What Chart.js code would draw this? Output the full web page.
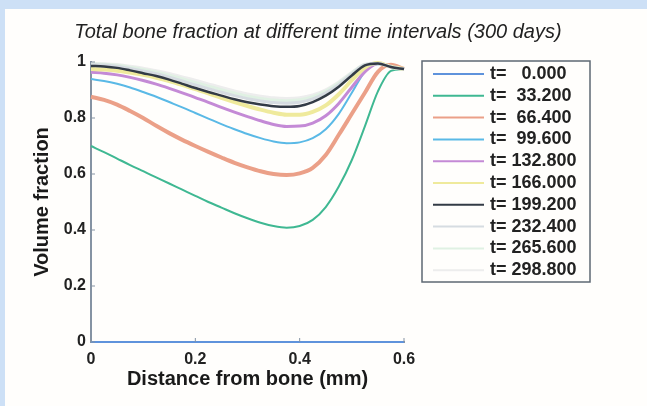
<!DOCTYPE html>
<html><head><meta charset="utf-8">
<script src="https://cdn.jsdelivr.net/npm/chart.js@4"></script>
<style>
html,body{margin:0;padding:0;background:#cde0f6;width:647px;height:406px;overflow:hidden}
#panel{position:absolute;left:5px;top:9px;width:642px;height:397px;background:#fffefc}
#c{position:absolute;left:0;top:0}
</style></head><body>
<div id="panel"></div>
<canvas id="c" width="647" height="406"></canvas>
<script>
const titleText = 'Total bone fraction at different time intervals (300 days)';
const xTitle = 'Distance from bone (mm)';
const yTitle = 'Volume fraction';
const xTickValues = [0, 0.2, 0.4, 0.6];
const xTickLabels = ['0', '0.2', '0.4', '0.6'];
const yTickValues = [0, 0.2, 0.4, 0.6, 0.8, 1];
const yTickLabels = ['0', '0.2', '0.4', '0.6', '0.8', '1'];

const distance = [0,0.025,0.05,0.075,0.1,0.125,0.15,0.175,0.2,0.225,0.25,0.275,0.3,0.325,0.35,0.375,0.4,0.425,0.45,0.475,0.5,0.525,0.55,0.575,0.6];

const legendLabels = ['t=   0.000','t=  33.200','t=  66.400','t=  99.600','t= 132.800','t= 166.000','t= 199.200','t= 232.400','t= 265.600','t= 298.800'];

const t000 = [0,0,0,0,0,0,0,0,0,0,0,0,0,0,0,0,0,0,0,0,0,0,0,0,0];
const t033 = [0.700,0.678,0.655,0.632,0.610,0.588,0.566,0.544,0.522,0.500,0.480,0.460,0.442,0.426,0.414,0.408,0.414,0.436,0.482,0.555,0.650,0.770,0.895,0.968,0.975];
const t066 = [0.876,0.865,0.848,0.825,0.800,0.772,0.746,0.722,0.700,0.679,0.659,0.640,0.624,0.610,0.600,0.596,0.602,0.622,0.668,0.740,0.815,0.890,0.965,0.990,0.975];
const t100 = [0.939,0.932,0.922,0.909,0.893,0.876,0.857,0.838,0.818,0.798,0.778,0.760,0.743,0.728,0.716,0.710,0.713,0.728,0.760,0.815,0.890,0.965,0.992,0.985,0.975];
const t133 = [0.963,0.960,0.954,0.945,0.934,0.921,0.906,0.890,0.873,0.856,0.838,0.821,0.805,0.790,0.777,0.770,0.771,0.782,0.808,0.852,0.910,0.965,0.995,0.985,0.975];
const t166 = [0.975,0.973,0.969,0.962,0.954,0.944,0.932,0.918,0.903,0.888,0.872,0.857,0.843,0.830,0.819,0.812,0.812,0.822,0.845,0.885,0.935,0.980,0.996,0.983,0.975];
const t199 = [0.986,0.984,0.979,0.970,0.960,0.950,0.937,0.922,0.907,0.893,0.880,0.867,0.856,0.848,0.842,0.840,0.843,0.857,0.880,0.912,0.952,0.988,0.995,0.982,0.975];
const t232 = [0.990,0.989,0.985,0.977,0.968,0.958,0.946,0.932,0.918,0.905,0.892,0.880,0.869,0.861,0.855,0.853,0.856,0.868,0.890,0.920,0.958,0.990,0.995,0.982,0.975];
const t266 = [0.993,0.992,0.988,0.981,0.973,0.964,0.953,0.940,0.927,0.914,0.901,0.889,0.878,0.870,0.864,0.862,0.865,0.876,0.896,0.925,0.961,0.991,0.995,0.982,0.975];
const t299 = [0.995,0.994,0.991,0.985,0.978,0.969,0.959,0.947,0.935,0.922,0.909,0.897,0.886,0.878,0.872,0.870,0.872,0.882,0.901,0.929,0.963,0.992,0.995,0.982,0.975];

const series = [t000,t033,t066,t100,t133,t166,t199,t232,t266,t299];
const colors = ['#5f93dc','#3fb892','#eba088','#5ab9e6','#c48ad6','#efea9c','#333b46','#d6dce1','#e0f1e3','#ededed'];
const widths = [2,2,4,2,3,4,2.5,3,3,3];
// drawing order: higher order drawn first (underneath); black (199.2) kept on top of the pale late curves
const drawOrder = [1,9,8,7,6,5,2,3,3.5,4];

const datasets = series.map((s,i)=>({
  label: legendLabels[i],
  data: s.map((v,k)=>({x: distance[k], y: v})),
  borderColor: colors[i],
  backgroundColor: colors[i],
  borderWidth: widths[i],
  pointRadius: 0,
  cubicInterpolationMode: 'monotone',
  fill: false,
  clip: 6,
  order: drawOrder[i]
}));

const FONT = '"Liberation Sans", Arial, sans-serif';
const AXIS = '#8593a3';

const extras = {
  id: 'extras',
  afterDatasetsDraw(chart){
    const ctx = chart.ctx, xs = chart.scales.x, ys = chart.scales.y, a = chart.chartArea;
    ctx.save();
    ctx.strokeStyle = AXIS; ctx.lineWidth = 1;
    xTickValues.forEach(v=>{ const p = xs.getPixelForValue(v); ctx.beginPath(); ctx.moveTo(p, a.bottom); ctx.lineTo(p, a.bottom-4); ctx.stroke(); });
    yTickValues.forEach(v=>{ const p = ys.getPixelForValue(v); ctx.beginPath(); ctx.moveTo(a.left, p); ctx.lineTo(a.left+4, p); ctx.stroke(); });
    ctx.restore();
  },
  afterDraw(chart){
    const ctx = chart.ctx;
    ctx.save();
    // title
    ctx.fillStyle = '#222';
    ctx.font = 'italic 20px ' + FONT;
    ctx.textAlign = 'center'; ctx.textBaseline = 'middle';
    ctx.fillText(titleText, 318, 32);
    // legend box
    const x0 = 422, y0 = 61, w = 168, h = 221;
    ctx.fillStyle = '#fffefc'; ctx.fillRect(x0, y0, w, h);
    ctx.strokeStyle = '#5e6873'; ctx.lineWidth = 1.5; ctx.strokeRect(x0, y0, w, h);
    ctx.font = 'bold 18px ' + FONT; ctx.textAlign = 'left'; ctx.textBaseline = 'middle';
    chart.data.datasets.forEach((ds,i)=>{
      const y = 74 + i*21.8;
      ctx.strokeStyle = ds.borderColor; ctx.lineWidth = 2;
      ctx.beginPath(); ctx.moveTo(433, y); ctx.lineTo(484, y); ctx.stroke();
      ctx.fillStyle = '#222';
      ctx.fillText(ds.label, 490, y);
    });
    ctx.restore();
  }
};

new Chart(document.getElementById('c'), {
  type: 'line',
  data: { datasets },
  options: {
    responsive: false,
    animation: false,
    events: [],
    layout: { padding: { left: 0, right: 243, top: 62, bottom: 0 } },
    plugins: { legend: { display: false }, title: { display: false }, tooltip: { enabled: false } },
    scales: {
      x: {
        type: 'linear', min: 0, max: 0.6,
        afterBuildTicks: s => { s.ticks = xTickValues.map(v=>({value: v})); },
        afterFit: s => { s.height = 64; },
        ticks: { callback: (v,i)=>xTickLabels[i], color: '#222', font: { family: FONT, size: 16, weight: 'bold' }, padding: 8, maxRotation: 0 },
        grid: { display: false, drawTicks: false },
        border: { display: true, color: AXIS, width: 2 },
        title: { display: true, text: xTitle, color: '#1a1a1a', font: { family: FONT, size: 20, weight: 'bold', lineHeight: 1.2 }, padding: { top: 0, bottom: 15 } }
      },
      y: {
        type: 'linear', min: 0, max: 1,
        afterBuildTicks: s => { s.ticks = yTickValues.map(v=>({value: v})); },
        afterFit: s => { s.width = 91; },
        ticks: { callback: (v,i)=>yTickLabels[i], color: '#222', font: { family: FONT, size: 16, weight: 'bold' }, padding: 5 },
        grid: { display: false, drawTicks: false },
        border: { display: true, color: AXIS, width: 2 },
        title: { display: true, text: yTitle, color: '#1a1a1a', font: { family: FONT, size: 20, weight: 'bold', lineHeight: 1.2 }, padding: { top: 30, bottom: 0 } }
      }
    }
  },
  plugins: [extras]
});
</script>
</body></html>
